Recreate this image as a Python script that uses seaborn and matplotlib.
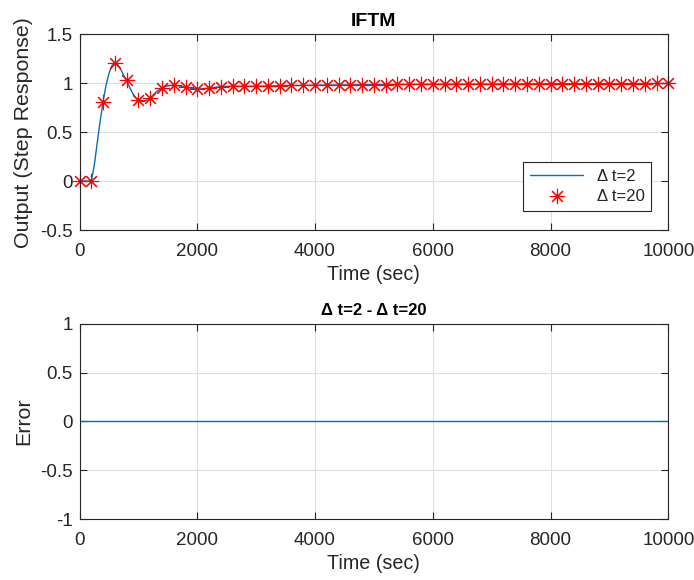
import numpy as np
import pandas as pd
import matplotlib
matplotlib.use("Agg")
import matplotlib.pyplot as plt
import seaborn as sns

# ---- data ----
marker_time = list(range(0, 10001, 200))
marker_vals = [0.0, 0.0, 0.81, 1.21, 1.03, 0.83, 0.85, 0.955, 0.98, 0.96,
               0.94, 0.95, 0.965, 0.97, 0.97, 0.97, 0.975, 0.975, 0.978, 0.98,
               0.98, 0.982, 0.983, 0.985, 0.985, 0.986, 0.987, 0.988, 0.988, 0.989,
               0.99, 0.99, 0.991, 0.991, 0.992, 0.992, 0.993, 0.993, 0.994, 0.994,
               0.995, 0.995, 0.995, 0.996, 0.996, 0.996, 0.997, 0.997, 0.997, 0.998,
               0.998]

line_time = [0, 200, 250, 300, 350, 400, 450, 500, 550, 600, 650, 700, 750, 800,
             850, 900, 950, 1000, 1050, 1100, 1150, 1200, 1300, 1400, 1500, 1600,
             1700, 1800, 1900, 2000, 2100, 2200, 2400, 2600, 2800, 3000, 3500,
             4000, 5000, 6000, 7000, 8000, 9000, 10000]
line_vals = [0.0, 0.0, 0.16, 0.39, 0.61, 0.81, 0.98, 1.10, 1.18, 1.21, 1.19, 1.14,
             1.08, 1.03, 0.96, 0.90, 0.855, 0.83, 0.815, 0.815, 0.83, 0.85, 0.91,
             0.955, 0.975, 0.98, 0.972, 0.96, 0.947, 0.94, 0.944, 0.95, 0.965,
             0.97, 0.97, 0.97, 0.976, 0.98, 0.986, 0.99, 0.992, 0.995, 0.996, 0.998]

err_time = marker_time
err_vals = [0.0] * len(marker_time)

x_ticks = [0, 2000, 4000, 6000, 8000, 10000]
top_yticks = [-0.5, 0, 0.5, 1, 1.5]
bot_yticks = [-1, -0.5, 0, 0.5, 1]

# ---- style ----
sns.set_theme(style="white")
plt.rcParams['font.family'] = ['Liberation Sans', 'DejaVu Sans']
plt.rcParams['axes.unicode_minus'] = False

dark = "#262626"
blue = "#0072BD"

fig = plt.figure(figsize=(6.94, 5.80), dpi=100)
ax1 = fig.add_axes([0.1146, 0.6034, 0.8484, 0.3374])
ax2 = fig.add_axes([0.1146, 0.1047, 0.8484, 0.3372])

df_line = pd.DataFrame({"t": line_time, "y": line_vals})
df_mark = pd.DataFrame({"t": marker_time, "y": marker_vals})
df_err = pd.DataFrame({"t": err_time, "y": err_vals})

sns.lineplot(data=df_line, x="t", y="y", ax=ax1, color=blue, linewidth=1.0,
             label="\u0394 t=2", estimator=None, sort=False)
sns.lineplot(data=df_mark, x="t", y="y", ax=ax1, color="red", linestyle="",
             marker=(8, 2, 0), markersize=11, markeredgewidth=0.8,
             markeredgecolor="red", label="\u0394 t=20", estimator=None,
             clip_on=False)
sns.lineplot(data=df_err, x="t", y="y", ax=ax2, color=blue, linewidth=1.0,
             estimator=None, legend=False)

for ax, yt, ylim in [(ax1, top_yticks, (-0.5, 1.5)), (ax2, bot_yticks, (-1, 1))]:
    ax.set_xlim(0, 10000)
    ax.set_ylim(*ylim)
    ax.set_xticks(x_ticks)
    ax.set_yticks(yt)
    ax.set_yticklabels([("%g" % v) for v in yt])
    ax.grid(True, color="#DFDFDF", linewidth=0.8)
    ax.set_axisbelow(True)
    ax.tick_params(direction="in", length=5, width=0.8, colors=dark,
                   labelsize=13.5, top=True, right=True, bottom=True, left=True,
                   labelcolor=dark)
    ax.tick_params(axis="x", pad=9)
    ax.tick_params(axis="y", pad=5)
    for s in ax.spines.values():
        s.set_visible(True)
        s.set_color(dark)
        s.set_linewidth(0.8)
    ax.set_xlabel("Time (sec)", fontsize=14.2, color=dark, labelpad=4)

ax1.set_ylabel("Output (Step Response)", fontsize=15.4, color=dark, labelpad=5)
ax2.set_ylabel("Error", fontsize=15.4, color=dark, labelpad=5)
ax1.set_title("IFTM", fontsize=14, fontweight="bold", color="black", pad=6)
ax2.set_title("\u0394 t=2 - \u0394 t=20", fontsize=12, fontweight="bold",
              color="black", pad=6)

leg = ax1.legend(loc="lower right", bbox_to_anchor=(0.9707, 0.097),
                 borderaxespad=0, fontsize=12, frameon=True, fancybox=False,
                 framealpha=1, edgecolor=dark, handlelength=3.2,
                 borderpad=0.4, labelspacing=0.35, handletextpad=0.8)
leg.get_frame().set_linewidth(0.8)

fig.savefig("out.png", dpi=100)
